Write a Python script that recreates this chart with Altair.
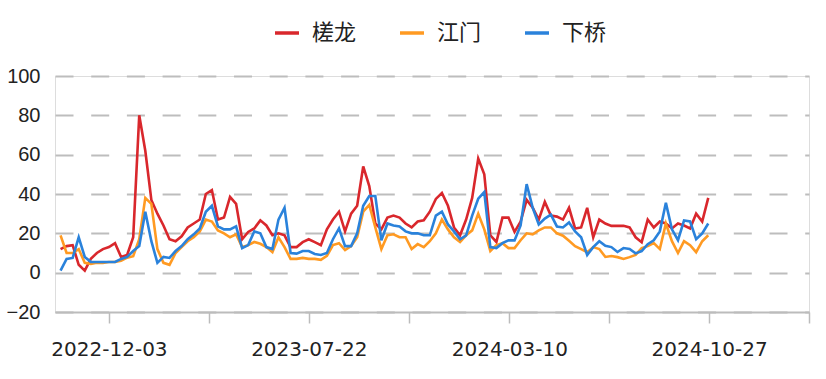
import altair as alt
import pandas as pd

# weekly observation dates
start_date = "2022-10-08"
n_weeks = 108
dates = pd.date_range(start_date, periods=n_weeks, freq="7D").strftime("%Y-%m-%dT00:00:00").tolist()

chalong = [12, 13.5, 14, 4, 1, 7, 10, 12, 13, 15,
           8, 9, 18, 80, 62, 37, 30, 24, 17, 16,
           18.5, 23, 25, 27, 40, 42, 27, 28, 38.5, 35,
           17, 20.7, 22.5, 26.6, 24, 19, 20, 19, 13, 13,
           15.5, 17, 15.5, 14, 22, 27, 31, 21, 30, 34,
           54, 44, 25, 22, 28, 29, 28, 25, 23, 26,
           26.6, 31, 37.5, 40.5, 34, 23, 19, 27, 38, 58,
           50, 19, 15.6, 28, 28, 20.7, 26, 37, 33, 27,
           36, 29, 28.5, 27, 33, 22.5, 23, 33, 18, 27,
           25, 23.8, 23.8, 23.8, 23, 18, 15.5, 27, 23, 26,
           25, 22.5, 25, 24, 22.5, 30, 26, 38]

jiangmen = [19, 10, 10, 12, 5, 4.5, 5, 5, 5.4, 5.4,
            6, 7.6, 8.4, 17, 38, 35, 12, 5, 4, 10,
            13, 16, 18, 21, 27, 26, 21.5, 20, 18, 19.5,
            13, 14, 15.6, 14.7, 13, 10.5, 18, 13, 7, 7,
            7.5, 7, 7, 6.5, 8.5, 14, 15, 11.5, 13.5, 18,
            31, 34.5, 23, 12, 19, 19.5, 18, 18, 12, 14.5,
            13, 16, 20, 27, 22, 18, 15.6, 19, 21.5, 30,
            22, 11, 14, 15, 12.5, 12.5, 16.5, 20, 19.5, 21.5,
            23, 23, 20, 18.8, 16.2, 13.5, 12, 10.4, 13, 12,
            8, 8.5, 7.9, 7, 7.9, 9, 12.5, 13.5, 15, 12,
            25, 16, 10, 16, 14, 10.4, 16, 19]

xiaqiao = [1, 7, 7.5, 18, 8, 5.5, 5.4, 5.4, 5.4, 5.5,
           7, 8, 11, 13.5, 31, 16, 5, 8, 7.5, 11,
           13.5, 17, 19.5, 22.5, 31, 34, 23.5, 22, 22, 23.5,
           12.5, 14, 21, 20, 13, 12, 27, 33, 10, 9.7,
           11, 11, 9.5, 9, 10, 17, 22.5, 13.5, 13.5, 20,
           34, 39, 39, 16.4, 25, 24, 23.5, 21, 20, 20,
           19, 19, 29, 31, 24.5, 21, 17, 19, 29, 37.6,
           41, 13, 12.5, 15, 16.4, 16.4, 24, 45, 33, 24.5,
           27.5, 29.5, 23.5, 23, 25.5, 21, 18, 9, 13, 16,
           13.7, 13, 10.5, 12.5, 12, 9.8, 11, 14.5, 16.5, 21,
           35.5, 22, 16.5, 26.5, 26, 17, 20, 25]

series_names = ["槎龙", "江门", "下桥"]
series_colors = ["#D9272C", "#FF9A22", "#2A82DB"]

y_ticks = [-20, 0, 20, 40, 60, 80, 100]

rows = []
for name, vals in zip(series_names, [chalong, jiangmen, xiaqiao]):
    for d, v in zip(dates, vals):
        rows.append({"date": d, "series": name, "value": v})
df = pd.DataFrame(rows)

x_tick_values = [
    alt.DateTime(year=2022, month=12, date=3),
    alt.DateTime(year=2023, month=3, date=28, hours=12),
    alt.DateTime(year=2023, month=7, date=22),
    alt.DateTime(year=2023, month=11, date=14, hours=12),
    alt.DateTime(year=2024, month=3, date=10),
    alt.DateTime(year=2024, month=7, date=3, hours=12),
    alt.DateTime(year=2024, month=10, date=27),
    alt.DateTime(year=2025, month=2, date=19, hours=12),
]
x_domain = [alt.DateTime(year=2022, month=10, date=1, hours=14),
            alt.DateTime(year=2025, month=2, date=19, hours=12)]

chart = alt.Chart(df).mark_line(strokeWidth=2.6).encode(
    x=alt.X("date:T",
            scale=alt.Scale(domain=x_domain, nice=False),
            axis=alt.Axis(values=x_tick_values, title=None, grid=False,
                          labelExpr="timeFormat(datum.value, '%H') == '00' ? timeFormat(datum.value, '%Y-%m-%d') : ''",
                          labelFont="DejaVu Sans", labelFontSize=20, labelColor="#222222",
                          labelPadding=16, labelFlush=False, labelOverlap=False,
                          domainColor="#bcbcbc", domainWidth=2,
                          tickColor="#bcbcbc", tickWidth=1.5, tickSize=11)),
    y=alt.Y("value:Q",
            scale=alt.Scale(domain=[-20, 100], nice=False, zero=False),
            axis=alt.Axis(values=y_ticks, title=None, domain=False, ticks=False,
                          labelFont="Liberation Sans", labelFontSize=20, labelColor="#222222",
                          labelPadding=15,
                          grid=True, gridColor="#bdbdbd", gridWidth=2,
                          gridDash=[18, 17.7])),
    color=alt.Color("series:N",
                    scale=alt.Scale(domain=series_names, range=series_colors),
                    sort=series_names,
                    legend=alt.Legend(title=None, orient="none", direction="horizontal",
                                      legendX=218, legendY=-57, padding=0,
                                      symbolType="stroke", symbolSize=576, symbolStrokeWidth=3.5,
                                      labelFont="Noto Sans CJK SC", labelFontSize=22,
                                      labelColor="#222222", labelOffset=11, columnPadding=36)),
).properties(
    width=754,
    height=236,
    autosize=alt.AutoSizeParams(type="none"),
    padding={"left": 55, "top": 76, "right": 17, "bottom": 67},
).configure_view(stroke=None).configure(background="white")

chart.save("out.html", embed_options={"renderer": "svg", "actions": False})
